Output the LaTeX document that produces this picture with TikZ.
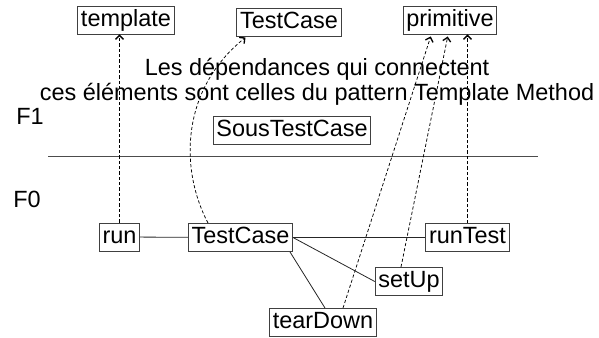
\documentclass[tikz,border=0pt]{standalone}
\usepackage{fontspec}
\setmainfont{Liberation Sans}
\usetikzlibrary{arrows.meta,calc,positioning}
\tikzset{
  texte/.style={font=\fontsize{17.6}{18.8}\selectfont},
  boite/.style={texte,draw=black!75,line width=0.6pt,inner xsep=2.4pt,inner ysep=2.2pt,
    text height=13pt,text depth=3.7pt},
  dep/.style={->,>={Straight Barb[length=3pt,width=6pt,line width=1pt]},
    dash pattern=on 2.4pt off 1.6pt,line width=0.55pt},
  lien/.style={line width=0.6pt,black!85}
}
\begin{document}
\begin{tikzpicture}[x=0.75pt,y=-0.75pt]
\useasboundingbox (0,0) rectangle (599,338);
% niveau F1
\node[boite] (tpl) at (126,20) {template};
\node[boite] (tc1) at (289,22) {TestCase};
\node[boite] (prim) at (450,20) {primitive};
\node[texte,align=center] (note) at (317,82) {Les dépendances qui connectent\\ces éléments sont celles du pattern Template Method};
\node[texte] (f1) at (30,116) {F1};
\node[boite] (stc) at (292,130) {SousTestCase};
% separation
\draw[lien,black!70] (48,156) -- (538,156);
% niveau F0
\node[texte] (f0) at (27,199) {F0};
\node[boite] (run) at (119.5,237) {run};
\node[boite] (tc0) at (240.5,237.5) {TestCase};
\node[boite] (rt) at (467.5,237.5) {runTest};
\node[boite] (su) at (409,281.5) {setUp};
\node[boite] (td) at (323,322.5) {tearDown};
\draw[lien] (run) -- (tc0);
\draw[lien] (tc0.east) -- (rt.west);
\draw[lien] (tc0.east) -- (su.west);
\draw[lien] ($(tc0.south east)+(-3,0)$) -- ($(td.north)+(2,0)$);
% dependances
\draw[dep] (run.north) -- (run.north |- tpl.south);
\draw[dep] ($(tc0.north west)+(20,0)$) .. controls (180,170) and (180,90) .. ($(tc1.south west)+(9,1)$);
\draw[dep] ($(td.north)+(20,0)$) -- ($(prim.south west)+(28,2)$);
\draw[dep] ($(su.north)+(-8,0)$) -- ($(prim.south west)+(45,2)$);
\draw[dep] (rt.north) -- (rt.north |- prim.south);
\end{tikzpicture}
\end{document}
